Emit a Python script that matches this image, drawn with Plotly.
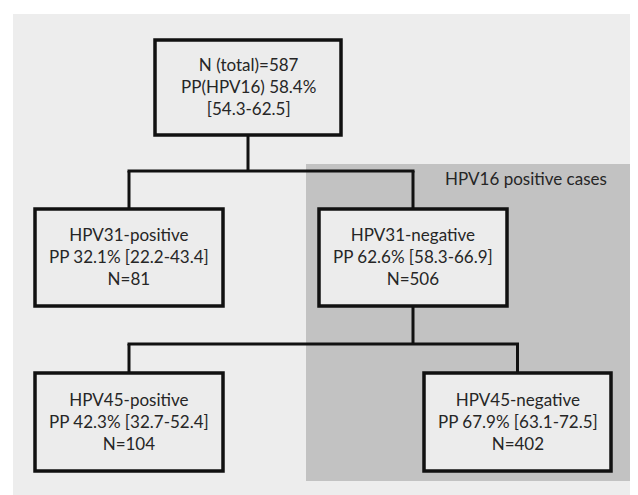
import plotly.graph_objects as go

# ---- data ----
node_names = ["N (total)", "HPV31-positive", "HPV31-negative", "HPV45-positive", "HPV45-negative"]
pp_values = [58.4, 32.1, 62.6, 42.3, 67.9]
ci_low = [54.3, 22.2, 58.3, 32.7, 63.1]
ci_high = [62.5, 43.4, 66.9, 52.4, 72.5]
n_cases = [587, 81, 506, 104, 402]
parents = [None, 0, 0, 2, 2]
group_label = "HPV16 positive cases"

# ---- layout (pixel space) ----
W, H = 638, 495
box_x = [(147, 333), (27, 215), (311, 499), (27, 215), (416, 603)]
level_y = {0: (32, 127), 1: (201, 298), 2: (365, 463)}
node_level = [0, 1, 1, 2, 2]
junction_y = {0: 163, 2: 336}

FONT = "Lato"
TXT = "#262626"
LINE = "#111111"

def node_text(i):
    if i == 0:
        return f"{node_names[0]}={n_cases[0]}<br>PP(HPV16) {pp_values[0]}%<br>[{ci_low[0]}-{ci_high[0]}]"
    return f"{node_names[i]}<br>PP {pp_values[i]}% [{ci_low[i]}-{ci_high[i]}]<br>N={n_cases[i]}"

shapes = []
# background
shapes.append(dict(type="rect", x0=5, x1=W, y0=6, y1=H, fillcolor="#ededed", line=dict(width=0), layer="below"))
# shaded group
shapes.append(dict(type="rect", x0=298, x1=623, y0=156, y1=473, fillcolor="#c2c2c2", line=dict(width=0), layer="below"))

# connectors
for p, jy in junction_y.items():
    kids = [i for i, q in enumerate(parents) if q == p]
    pcx = sum(box_x[p]) / 2
    pb = level_y[node_level[p]][1]
    shapes.append(dict(type="line", x0=pcx, x1=pcx, y0=pb, y1=jy, line=dict(color=LINE, width=3)))
    cxs = [sum(box_x[k]) / 2 for k in kids]
    shapes.append(dict(type="line", x0=min(cxs) - 1.5, x1=max(cxs) + 1.5, y0=jy, y1=jy, line=dict(color=LINE, width=3)))
    for k, cx in zip(kids, cxs):
        shapes.append(dict(type="line", x0=cx, x1=cx, y0=jy, y1=level_y[node_level[k]][0], line=dict(color=LINE, width=3)))

annotations = []
for i in range(len(node_names)):
    x0, x1 = box_x[i]
    y0, y1 = level_y[node_level[i]]
    shapes.append(dict(type="rect", x0=x0, x1=x1, y0=y0, y1=y1, fillcolor="#ececec",
                       line=dict(color=LINE, width=3.5)))
    annotations.append(dict(x=(x0 + x1) / 2, y=(y0 + y1) / 2 - 1, xref="x", yref="y", text=node_text(i),
                            showarrow=False, align="center", xanchor="center", yanchor="middle",
                            font=dict(family=FONT, size=17, color=TXT)))

annotations.append(dict(x=601, y=170, xref="x", yref="y", text=group_label, showarrow=False,
                        xanchor="right", yanchor="middle", font=dict(family=FONT, size=17, color=TXT)))

fig = go.Figure()
fig.add_trace(go.Scatter(x=[0, W], y=[0, H], mode="markers", marker=dict(opacity=0), hoverinfo="skip", showlegend=False))
fig.update_layout(
    width=W, height=H, margin=dict(l=0, r=0, t=0, b=0),
    paper_bgcolor="white", plot_bgcolor="white",
    xaxis=dict(range=[0, W], visible=False, fixedrange=True),
    yaxis=dict(range=[H, 0], visible=False, fixedrange=True),
    shapes=shapes, annotations=annotations, showlegend=False,
)
fig.write_html("out.html")
